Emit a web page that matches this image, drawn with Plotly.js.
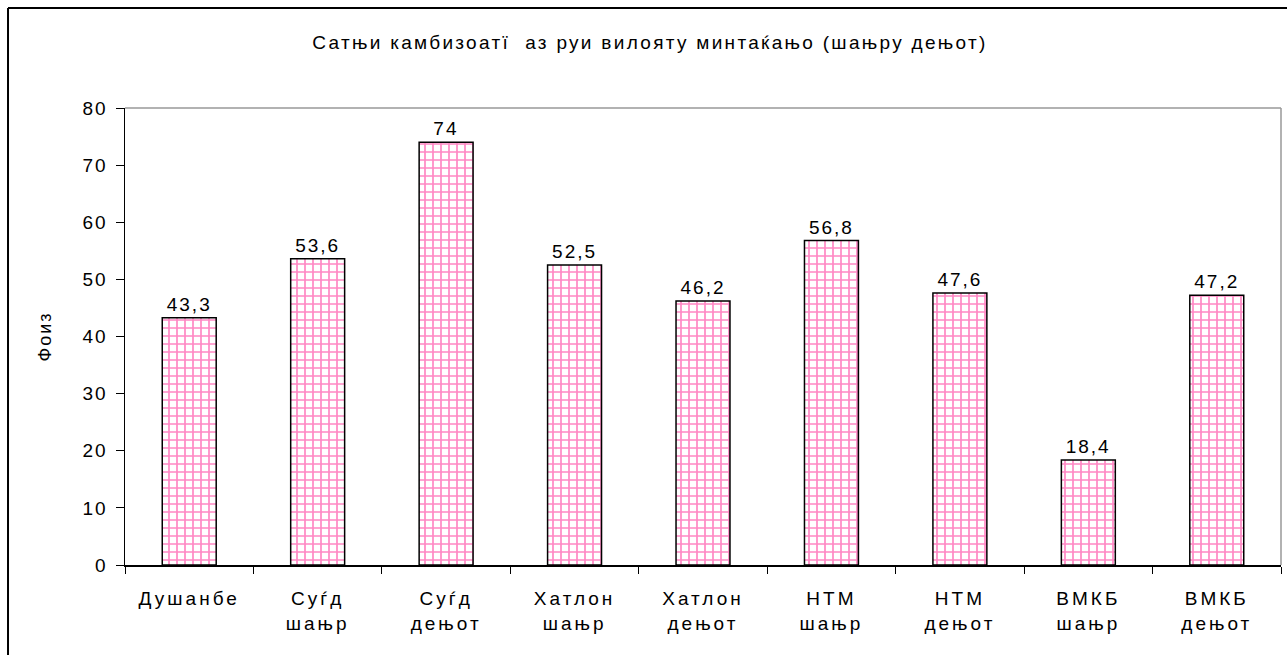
<!DOCTYPE html>
<html>
<head>
<meta charset="utf-8">
<script src="https://cdn.plot.ly/plotly-3.0.1.min.js"></script>
<style>
html,body{margin:0;padding:0;background:#fff;}
#chart{width:1287px;height:655px;}
#chart .xtick text{letter-spacing:3px;}
#chart .ytick text{letter-spacing:2px;}
#chart text.bartext{letter-spacing:2px;}
#chart text.gtitle{letter-spacing:2.3px;}
#chart text.ytitle{letter-spacing:2px;}
</style>
</head>
<body>
<div id="chart"></div>
<script>
const regions = ["Душанбе", "Суѓд", "Суѓд", "Хатлон", "Хатлон", "НТМ", "НТМ", "ВМКБ", "ВМКБ"];
const areas = ["", "шањр", "дењот", "шањр", "дењот", "шањр", "дењот", "шањр", "дењот"];
const values = [43.3, 53.6, 74, 52.5, 46.2, 56.8, 47.6, 18.4, 47.2];
const titleText = "Сатњи камбизоатї  аз руи вилояту минтаќањо (шањру дењот)";
const yTitle = "Фоиз";

const categories = regions.map((r, i) => areas[i] ? r + "<br>" + areas[i] : r);
const labels = values.map(v => String(v).replace(".", ","));

const font = "Liberation Sans, Arial, sans-serif";

const trace = {
  type: "bar",
  x: categories,
  y: values,
  text: labels,
  textposition: "outside",
  cliponaxis: false,
  textfont: {family: font, size: 19, color: "#000"},
  marker: {
    color: "#ffffff",
    line: {color: "#000", width: 1.5},
    pattern: {shape: "+", fgcolor: "#ff88c4", bgcolor: "#ffffff", size: 8, solidity: 0.38, fillmode: "replace"}
  },
  hoverinfo: "x+y"
};

const layout = {
  width: 1287, height: 655,
  margin: {l: 125, r: 6, t: 108, b: 90},
  paper_bgcolor: "#fff", plot_bgcolor: "#fff",
  showlegend: false,
  bargap: 0.58,
  title: {text: titleText, font: {family: font, size: 19, color: "#000"}, x: 0.505, xanchor: "center", y: 0.935, yanchor: "middle"},
  xaxis: {
    type: "category",
    showline: true, linecolor: "#000", linewidth: 1.5,
    ticks: "outside", tickson: "boundaries", ticklen: 7, tickcolor: "#000", tickwidth: 1,
    tickfont: {family: font, size: 19, color: "#000"},
    ticklabelstandoff: 16,
    showgrid: false, zeroline: false, fixedrange: true
  },
  yaxis: {
    range: [0, 80], dtick: 10,
    showline: true, linecolor: "#000", linewidth: 1.5,
    ticks: "outside", ticklen: 8, tickcolor: "#000", tickwidth: 1,
    tickfont: {family: font, size: 19, color: "#000"},
    ticklabelstandoff: 4,
    showgrid: false, zeroline: false, fixedrange: true,
    title: {text: yTitle, font: {family: font, size: 18, color: "#000"}, standoff: 30}
  },
  shapes: [
    {type: "line", xref: "paper", yref: "paper", x0: 0, x1: 1, y0: 1, y1: 1, line: {color: "#999", width: 1.5}},
    {type: "line", xref: "paper", yref: "paper", x0: 1, x1: 1, y0: 0, y1: 1, line: {color: "#999", width: 1.5}},
    {type: "line", xref: "paper", yref: "paper", x0: -0.1012, x1: 1.1, y0: 1.2188, y1: 1.2188, line: {color: "#000", width: 2}},
    {type: "line", xref: "paper", yref: "paper", x0: -0.1012, x1: -0.1012, y0: -0.3, y1: 1.2188, line: {color: "#000", width: 2}}
  ]
};

Plotly.newPlot("chart", [trace], layout, {displayModeBar: false, staticPlot: true});
</script>
</body>
</html>
